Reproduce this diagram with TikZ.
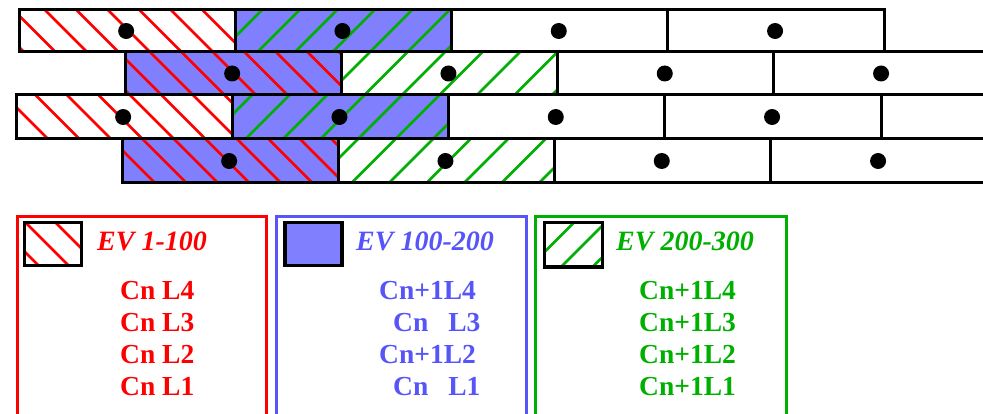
\documentclass[tikz,border=0pt]{standalone}
\usepackage{fontspec}
\setmainfont{Liberation Serif}
\definecolor{evred}{RGB}{255,0,0}
\definecolor{evblue}{RGB}{85,85,250}
\definecolor{evfill}{RGB}{128,128,255}
\definecolor{evgreen}{RGB}{0,176,0}
\tikzset{
  cellbox/.style={draw=black,line width=3pt},
  swatch/.style={draw=black,line width=3.5pt},
  legendbox/.style={line width=3pt},
  hatch/.style={line width=2.8pt},
  dot/.style={fill=black},
  title/.style={font=\fontsize{28}{32}\selectfont\bfseries\itshape,anchor=base west,inner sep=0pt},
  entry/.style={font=\fontsize{27.5}{32}\selectfont\bfseries,anchor=base west,inner sep=0pt},
}
% red "\" hatching: lines x - y = c
\newcommand\redlines[2]{%
  \foreach \k in {0,...,45}{\pgfmathsetmacro\cc{#1+\k*#2}
    \draw[hatch,evred] (\cc,0) -- ++(320,320);}}
% green "/" hatching: lines x + y = c
\newcommand\greenlines[2]{%
  \foreach \k in {0,...,40}{\pgfmathsetmacro\cc{#1+\k*#2}
    \draw[hatch,evgreen] (\cc,0) -- ++(-320,320);}}
% one brick: #1 left, #2 top, #3 right, #4 bottom, #5 fill, #6 hatch (0 none, 1 red, 2 green)
\newcommand\brickbody[6]{%
  \fill[#5] (#1,#2) rectangle (#3,#4);
  \ifnum#6=1 \begin{scope}\clip (#1,#2) rectangle (#3,#4); \redlines{-311.5}{31.5}\end{scope}\fi
  \ifnum#6=2 \begin{scope}\clip (#1,#2) rectangle (#3,#4); \greenlines{9.5}{37.5}\end{scope}\fi
  \draw[cellbox] (#1,#2) rectangle (#3,#4);}
% brick with its centre dot
\newcommand\brick[6]{%
  \brickbody{#1}{#2}{#3}{#4}{#5}{#6}
  \fill[dot] ({(#1+#3)/2-1},{(#2+#4)/2}) circle (8);}
\begin{document}
\begin{tikzpicture}[x=1pt,y=-1pt]
\useasboundingbox (0,0) rectangle (983,414);
\fill[white] (0,0) rectangle (983,414);
\clip (0,0) rectangle (983,414);

% row 1
\brick{19}{10}{235.3}{52}{white}{1}
\brick{235.3}{10}{451.6}{52}{evfill}{2}
\brick{451.6}{10}{667.9}{52}{white}{0}
\brick{667.9}{10}{884.2}{52}{white}{0}
% row 2
\brick{125}{52}{341.3}{95}{evfill}{1}
\brick{341.3}{52}{557.6}{95}{white}{2}
\brick{557.6}{52}{773.9}{95}{white}{0}
\brick{773.9}{52}{990.2}{95}{white}{0}
% row 3
\brick{16}{95}{232.3}{139}{white}{1}
\brick{232.3}{95}{448.6}{139}{evfill}{2}
\brick{448.6}{95}{664.9}{139}{white}{0}
\brick{664.9}{95}{881.2}{139}{white}{0}
\brickbody{881.2}{95}{1097.5}{139}{white}{0}
% row 4
\brick{122}{139}{338.3}{183}{evfill}{1}
\brick{338.3}{139}{554.6}{183}{white}{2}
\brick{554.6}{139}{770.9}{183}{white}{0}
\brick{770.9}{139}{987.2}{183}{white}{0}

% legend: EV 1-100
\draw[legendbox,evred] (17.5,216.5) rectangle (266.5,430);
\begin{scope}\clip (24.5,222.5) rectangle (81.5,265.5); \redlines{-407}{30}\end{scope}
\draw[swatch] (24.5,222.5) rectangle (81.5,265.5);
\node[title,text=evred] (t1) at (97,251) {EV 1-100};
\node[entry,text=evred] (r4) at (120,299) {Cn L4};
\node[entry,text=evred] (r3) at (120,331) {Cn L3};
\node[entry,text=evred] (r2) at (120,363) {Cn L2};
\node[entry,text=evred] (r1) at (120,395) {Cn L1};

% legend: EV 100-200
\draw[legendbox,evblue] (276.5,216.5) rectangle (526,430);
\fill[evfill] (285,222.5) rectangle (342,265.5);
\draw[swatch] (285,222.5) rectangle (342,265.5);
\node[title,text=evblue] (t2) at (356,251) {EV 100-200};
\node[entry,text=evblue] (b4) at (379,299) {Cn+1L4};
\node[entry,text=evblue] (b3) at (393,331) {Cn\hspace{20pt}L3};
\node[entry,text=evblue] (b2) at (379,363) {Cn+1L2};
\node[entry,text=evblue] (b1) at (393,395) {Cn\hspace{20pt}L1};

% legend: EV 200-300
\draw[legendbox,evgreen] (535.5,216.5) rectangle (786.5,430);
\begin{scope}\clip (544.5,222.5) rectangle (602.5,267); \greenlines{765}{31.5}\end{scope}
\draw[swatch] (544.5,222.5) rectangle (602.5,267);
\node[title,text=evgreen] (t3) at (616,251) {EV 200-300};
\node[entry,text=evgreen] (g4) at (639,299) {Cn+1L4};
\node[entry,text=evgreen] (g3) at (639,331) {Cn+1L3};
\node[entry,text=evgreen] (g2) at (639,363) {Cn+1L2};
\node[entry,text=evgreen] (g1) at (639,395) {Cn+1L1};
\end{tikzpicture}
\end{document}
